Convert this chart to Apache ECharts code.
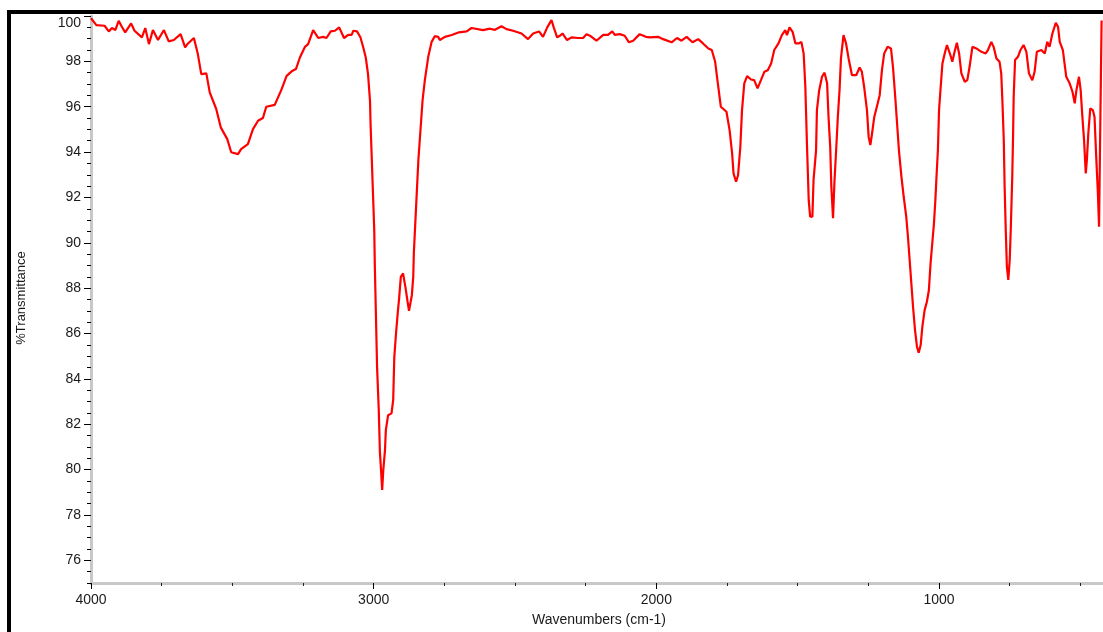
<!DOCTYPE html>
<html>
<head>
<meta charset="utf-8">
<script src="https://cdn.jsdelivr.net/npm/echarts@6/dist/echarts.min.js"></script>
<style>
html,body{margin:0;padding:0;background:#fff;}
#chart{width:1103px;height:632px;}
</style>
</head>
<body>
<div id="chart"></div>
<script>
// Wavenumber (cm-1) and %Transmittance
const wavenumbers = [4000,3996,3981,3952,3937,3926,3914,3902,3893,3879,3858,3846,3820,3808,3795,3781,3763,3742,3725,3707,3683,3667,3657,3636,3622,3610,3592,3580,3557,3541,3518,3504,3480,3469,3445,3427,3409,3392,3380,3350,3327,3308,3290,3275,3261,3243,3232,3214,3196,3179,3167,3152,3137,3122,3105,3090,3078,3072,3059,3047,3037,3028,3020,3013,3011,2998,2996,2992,2988,2982,2978,2974,2970,2966,2960,2957,2949,2937,2931,2927,2921,2915,2910,2904,2896,2887,2880,2875,2869,2865,2860,2858,2854,2842,2827,2819,2807,2795,2784,2772,2766,2748,2724,2698,2671,2654,2613,2589,2571,2548,2530,2507,2477,2454,2436,2415,2401,2386,2371,2363,2351,2341,2332,2316,2300,2277,2259,2247,2235,2212,2188,2171,2156,2147,2129,2112,2097,2082,2059,2037,2023,1994,1976,1946,1927,1911,1893,1872,1852,1835,1816,1804,1792,1784,1772,1752,1741,1732,1727,1718,1711,1703,1697,1689,1679,1665,1654,1642,1630,1618,1606,1594,1583,1568,1556,1544,1538,1529,1518,1508,1497,1487,1479,1473,1467,1461,1456,1448,1444,1435,1432,1424,1414,1405,1396,1391,1385,1381,1375,1370,1364,1358,1352,1347,1338,1329,1320,1308,1293,1281,1273,1265,1255,1249,1243,1237,1229,1220,1210,1202,1194,1182,1170,1163,1155,1142,1133,1125,1116,1110,1104,1098,1092,1085,1078,1072,1065,1059,1051,1043,1036,1030,1024,1018,1013,1009,1004,1000,995,988,980,972,965,960,953,945,937,929,921,909,900,892,882,868,850,835,827,815,807,797,786,780,776,771,768,764,760,755,750,746,741,738,736,731,721,712,701,691,682,670,662,654,638,626,617,609,599,587,579,573,562,550,538,528,520,514,505,499,493,487,481,477,472,465,456,450,444,438,434,425];
const transmittance = [99.9,99.82,99.6,99.57,99.32,99.47,99.38,99.79,99.57,99.28,99.67,99.35,99.06,99.47,98.76,99.38,98.94,99.38,98.88,98.94,99.2,98.62,98.79,99.03,98.32,97.44,97.47,96.63,95.9,95.09,94.57,93.99,93.91,94.13,94.35,95.01,95.38,95.5,96.0,96.08,96.73,97.36,97.56,97.66,98.17,98.64,98.76,99.38,99.03,99.08,99.03,99.32,99.35,99.5,99.03,99.17,99.17,99.35,99.32,99.06,98.62,98.17,97.44,96.26,95.23,90.56,89.02,86.77,84.53,82.62,80.78,79.98,79.1,79.98,80.86,81.74,82.4,82.48,83.06,84.97,86.0,86.89,87.55,88.5,88.65,87.99,87.4,87.0,87.03,87.69,88.5,89.53,90.56,93.63,96.29,97.17,98.2,98.86,99.11,99.08,98.94,99.08,99.16,99.28,99.32,99.47,99.38,99.44,99.39,99.55,99.42,99.35,99.23,98.98,99.23,99.32,99.08,99.5,99.82,99.5,99.06,99.13,99.23,98.94,99.06,99.03,99.03,99.2,99.13,98.91,99.17,99.17,99.32,99.17,99.2,99.13,98.84,98.91,99.2,99.08,99.06,99.08,98.98,98.84,99.03,98.91,99.08,98.84,98.98,98.79,98.57,98.5,97.98,97.17,96.0,95.78,94.97,93.94,93.06,92.69,92.98,94.23,95.85,97.03,97.35,97.2,97.17,96.81,97.17,97.54,97.61,97.91,98.5,98.79,99.16,99.38,99.16,99.5,99.3,98.79,98.79,98.86,98.35,96.88,94.23,91.88,91.15,91.15,92.76,94.09,95.85,96.73,97.32,97.5,97.03,95.56,94.23,92.47,91.08,92.69,94.09,95.56,96.73,98.13,99.16,98.79,98.13,97.39,97.39,97.73,97.54,96.88,95.85,94.67,94.31,94.82,95.56,96.0,96.51,97.61,98.35,98.64,98.57,97.76,96.44,94.09,92.91,92.03,91.15,90.26,89.24,88.21,87.18,86.15,85.42,85.15,85.49,86.3,87.03,87.4,87.91,89.09,89.97,90.85,91.88,92.91,94.09,95.85,96.73,97.91,98.35,98.72,98.64,98.28,97.98,98.42,98.82,98.35,97.47,97.1,97.17,97.76,98.64,98.57,98.42,98.35,98.5,98.86,98.64,98.13,97.98,97.47,96.29,94.53,92.47,90.56,88.94,88.36,89.24,90.71,92.91,94.82,96.44,98.06,98.2,98.5,98.72,98.42,97.47,97.17,97.54,98.42,98.5,98.35,98.86,98.64,99.23,99.7,99.52,98.86,98.5,97.32,97.03,96.66,96.15,96.73,97.32,96.73,95.56,94.53,93.06,93.65,94.82,95.93,95.85,95.56,93.79,92.18,90.71,99.8];
const xMajorTicks = [1000, 2000, 3000, 4000];
const xMinorTicks = [500,750,1000,1250,1500,1750,2000,2250,2500,2750,3000,3250,3500,3750,4000];
const yMajorTicks = [76,78,80,82,84,86,88,90,92,94,96,98,100];
const xTitle = 'Wavenumbers (cm-1)';
const yTitle = '%Transmittance';

const points = wavenumbers.map((w, i) => [w, transmittance[i]]);
const font = '"Liberation Sans", Arial, sans-serif';
const chart = echarts.init(document.getElementById('chart'), null, {renderer: 'canvas'});
const grid = {left: 91, right: 0, top: 16, bottom: 49};
chart.setOption({
  animation: false,
  backgroundColor: '#ffffff',
  grid: grid,
  xAxis: [{
    type: 'value', inverse: true, min: 420, max: 4000,
    axisLine: {show: true, lineStyle: {color: '#c8c8c8', width: 3}},
    axisTick: {show: true, customValues: xMinorTicks, length: 3, lineStyle: {color: '#222', width: 1}},
    axisLabel: {show: false}, splitLine: {show: false}
  }, {
    type: 'value', inverse: true, min: 420, max: 4000, position: 'bottom',
    axisLine: {show: false},
    axisTick: {show: true, customValues: xMajorTicks, length: 6, lineStyle: {color: '#000', width: 1}},
    axisLabel: {show: true, customValues: xMajorTicks, margin: 10, color: '#1a1a1a', fontSize: 14, fontFamily: font, formatter: v => String(v)},
    splitLine: {show: false}
  }],
  yAxis: [{
    type: 'value', min: 75, max: 100, interval: 0.5,
    axisLine: {show: true, lineStyle: {color: '#c8c8c8', width: 3}},
    axisTick: {show: true, length: 4, lineStyle: {color: '#000', width: 1}},
    axisLabel: {show: false}, splitLine: {show: false}
  }, {
    type: 'value', min: 75, max: 100, position: 'left',
    axisLine: {show: false},
    axisTick: {show: true, customValues: yMajorTicks, length: 7, lineStyle: {color: '#000', width: 1}},
    axisLabel: {show: true, customValues: yMajorTicks, margin: 10, color: '#1a1a1a', fontSize: 14, fontFamily: font, verticalAlignMaxLabel: 'top', formatter: v => String(v)},
    splitLine: {show: false}
  }],
  series: [{
    type: 'line', xAxisIndex: 0, yAxisIndex: 0, data: points, showSymbol: false, symbol: 'none',
    lineStyle: {color: '#ff0000', width: 2.2}, z: 5
  }],
  graphic: [
    {type: 'rect', shape: {x: 9, y: 12, width: 1200, height: 700}, style: {fill: 'none', stroke: '#000', lineWidth: 4}, z: 10},
    {type: 'text', x: 599, y: 620, style: {text: xTitle, fill: '#1a1a1a', font: '14px ' + font, textAlign: 'center', textVerticalAlign: 'middle'}},
    {type: 'text', x: 21, y: 298, rotation: Math.PI / 2, style: {text: yTitle, fill: '#1a1a1a', font: '13px ' + font, textAlign: 'center', textVerticalAlign: 'middle'}}
  ]
});
</script>
</body>
</html>
